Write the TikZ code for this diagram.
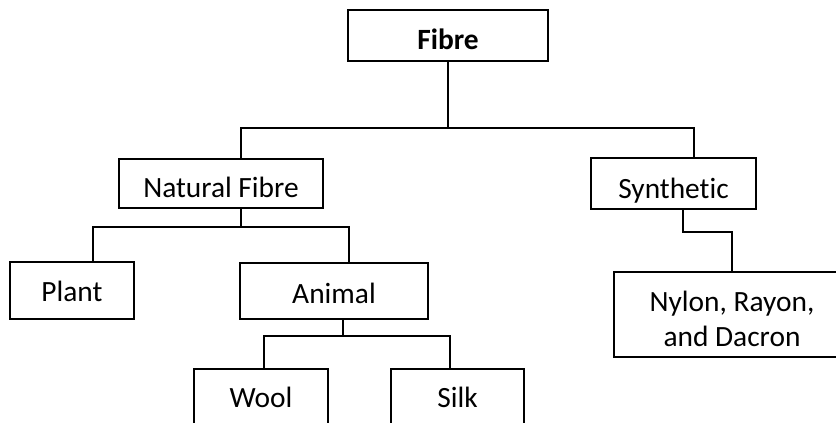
\documentclass[tikz,border=0pt]{standalone}
\usepackage{fontspec}
\setmainfont{Carlito}[Ligatures=NoCommon]
\usepackage{tikz}
\usetikzlibrary{positioning, calc}
\definecolor{mainBlack}{gray}{0.0}

\begin{document}
\begin{tikzpicture}[x=0.5pt, y=-0.5pt, line width=0.8pt,
    box/.style={draw=mainBlack, line width=0.8pt, align=center, inner sep=0pt,
        text depth=0pt, font=\fontsize{14.7}{17.8}\selectfont}]
    \fill[white] (0,0) rectangle (836,423);
    \useasboundingbox (0,0) rectangle (836,423);

    % levels
    \node[box, minimum width=100pt, minimum height=25.5pt, text height=14.4pt] (fibre) at (448,35.5) {\textbf{Fibre}};
    \node[box, minimum width=102pt, minimum height=24.5pt, text height=14.4pt] (natural) at (221,183.5) {Natural Fibre};
    \node[box, minimum width=82.5pt, minimum height=25.5pt, text height=14.6pt] (synth) at (673.5,183.5) {Synthetic};
    \node[box, minimum width=62pt, minimum height=28.5pt, text height=10.9pt] (plant) at (72,290.5) {Plant};
    \node[box, minimum width=94pt, minimum height=28pt, text height=12.4pt] (animal) at (334,291) {Animal};
    \node[box, minimum width=118pt, minimum height=42.5pt, text height=32.2pt] (nylon) at (732,314.5) {Nylon, Rayon,\\and Dacron};
    \node[box, minimum width=67pt, minimum height=29.5pt, text height=9.4pt] (wool) at (261,398.5) {Wool};
    \node[box, minimum width=66.5pt, minimum height=29.5pt, text height=9.4pt] (silk) at (457.5,398.5) {Silk};

    % joints
    \coordinate (jFibre) at (450,128);
    \coordinate (jNatural) at (241,227);
    \coordinate (jAnimal) at (343,336);
    \coordinate (jSynth) at (700,232);

    \draw (fibre.south) -- (fibre.south |- jFibre);
    \draw ([xshift=10pt]natural.north) |- (jFibre) -| ([xshift=10.25pt]synth.north);

    \draw ([xshift=10pt]natural.south) -- (jNatural);
    \draw ([xshift=10.5pt]plant.north) |- (jNatural) -| ([xshift=7.5pt]animal.north);

    \draw ([xshift=4.5pt]animal.south) -- (jAnimal);
    \draw ([xshift=1.5pt]wool.north) |- (jAnimal) -| ([xshift=-3.75pt]silk.north);

    \draw ([xshift=4.75pt]synth.south) |- (jSynth) -| (nylon.north);
\end{tikzpicture}
\end{document}
